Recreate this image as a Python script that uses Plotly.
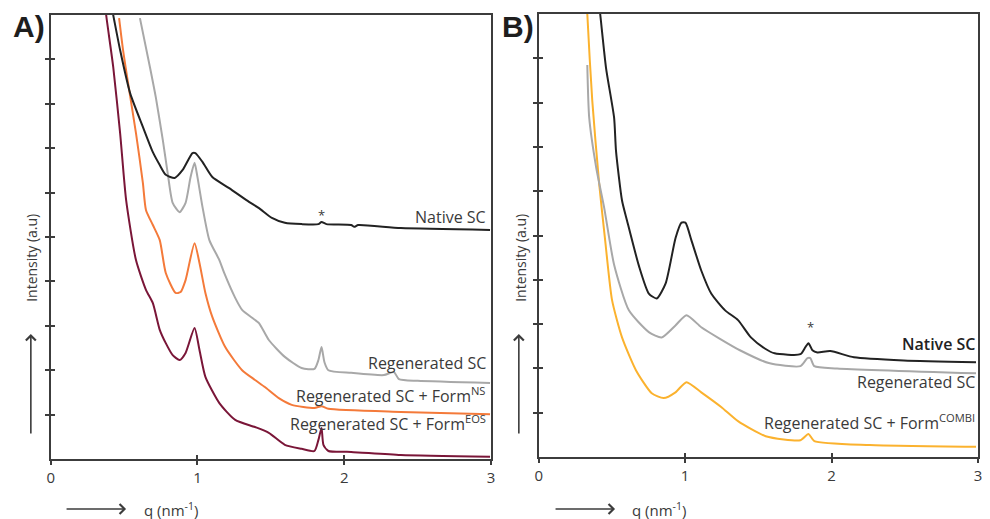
import plotly.graph_objects as go

# ---------------- Panel A data (q in nm^-1, intensity in a.u.) ----------------
q_native_a = [0.412, 0.426, 0.473, 0.541, 0.628, 0.696, 0.743, 0.784, 0.845, 0.899, 0.966, 0.986,
              1.034, 1.101, 1.216, 1.351, 1.419, 1.507, 1.595, 1.709, 1.824, 1.845, 1.878, 2.047,
              2.068, 2.095, 2.385, 2.993]
i_native_a = [10.23, 10.0, 9.21, 8.24, 7.48, 6.91, 6.62, 6.40, 6.33, 6.51, 6.89, 6.89,
              6.69, 6.35, 6.10, 5.79, 5.65, 5.43, 5.32, 5.29, 5.29, 5.34, 5.29, 5.27,
              5.23, 5.27, 5.20, 5.16]

q_regen_a = [0.608, 0.676, 0.716, 0.764, 0.797, 0.831, 0.878, 0.919, 0.953, 0.980, 1.000, 1.034,
             1.081, 1.149, 1.182, 1.257, 1.304, 1.372, 1.419, 1.486, 1.595, 1.709, 1.797, 1.824,
             1.845, 1.865, 1.892, 2.047, 2.270, 2.338, 2.372, 2.500, 2.993]
i_regen_a = [9.93, 8.83, 8.15, 7.18, 6.44, 5.77, 5.56, 5.77, 6.35, 6.67, 6.35, 5.68,
             4.93, 4.48, 4.19, 3.63, 3.36, 3.18, 3.06, 2.68, 2.30, 2.05, 2.03, 2.23,
             2.52, 2.18, 2.00, 1.94, 1.89, 1.96, 1.80, 1.76, 1.71]

q_ns_a = [0.466, 0.493, 0.527, 0.581, 0.628, 0.649, 0.696, 0.743, 0.784, 0.851, 0.885, 0.919,
          0.980, 1.014, 1.054, 1.101, 1.189, 1.304, 1.392, 1.459, 1.554, 1.642, 1.797, 1.845,
          1.892, 2.385, 2.993]
i_ns_a = [9.93, 9.21, 8.47, 7.34, 6.22, 5.61, 5.27, 4.93, 4.19, 3.74, 3.76, 4.03,
          4.86, 4.41, 3.74, 3.20, 2.52, 2.00, 1.78, 1.62, 1.37, 1.22, 1.15, 1.19,
          1.13, 1.06, 1.01]

q_eos_a = [0.372, 0.378, 0.426, 0.473, 0.514, 0.581, 0.649, 0.696, 0.743, 0.784, 0.831, 0.878,
           0.919, 0.980, 1.014, 1.054, 1.149, 1.257, 1.392, 1.486, 1.595, 1.709, 1.797, 1.824,
           1.845, 1.858, 1.892, 2.047, 2.385, 2.993]
i_eos_a = [10.23, 10.0, 8.83, 7.34, 5.83, 4.48, 3.81, 3.51, 2.91, 2.61, 2.34, 2.23,
           2.39, 2.95, 2.45, 1.85, 1.26, 0.88, 0.72, 0.59, 0.32, 0.23, 0.18, 0.43,
           0.70, 0.32, 0.18, 0.16, 0.09, 0.05]

# ---------------- Panel B data ----------------
q_native_b = [0.413, 0.420, 0.460, 0.515, 0.528, 0.569, 0.603, 0.684, 0.752, 0.806, 0.867, 0.935,
              0.975, 1.002, 1.043, 1.110, 1.178, 1.273, 1.361, 1.449, 1.544, 1.611, 1.787, 1.821,
              1.842, 1.869, 1.903, 1.991, 2.153, 2.492, 2.986]
i_native_b = [10.18, 10.0, 8.78, 7.66, 6.91, 5.79, 5.34, 4.32, 3.69, 3.58, 3.92, 4.95,
              5.29, 5.29, 4.89, 4.21, 3.69, 3.31, 3.09, 2.70, 2.45, 2.34, 2.32, 2.48,
              2.57, 2.41, 2.36, 2.39, 2.25, 2.18, 2.14]

q_regen_b = [0.332, 0.345, 0.393, 0.447, 0.515, 0.616, 0.752, 0.840, 0.934, 1.009, 1.110, 1.232,
             1.374, 1.571, 1.787, 1.835, 1.855, 1.882, 2.038, 2.986]
i_regen_b = [8.85, 7.66, 6.53, 5.63, 4.34, 3.31, 2.82, 2.70, 2.97, 3.20, 2.93, 2.68,
             2.41, 2.12, 2.05, 2.23, 2.23, 2.05, 2.00, 1.89]

q_combi_b = [0.332, 0.332, 0.366, 0.413, 0.454, 0.501, 0.569, 0.664, 0.772, 0.853, 0.934, 1.009,
             1.110, 1.246, 1.361, 1.550, 1.787, 1.842, 1.882, 2.261, 2.986]
i_combi_b = [10.18, 10.0, 8.04, 6.17, 4.89, 3.54, 2.70, 1.96, 1.44, 1.33, 1.46, 1.69,
             1.46, 1.13, 0.81, 0.47, 0.38, 0.52, 0.36, 0.27, 0.23]

x_ticks = [0, 1, 2, 3]
x_tick_labels = ["0", "1", "2", "3"]
y_ticks = [1, 2, 3, 4, 5, 6, 7, 8, 9]

BLACK = "#222222"
GRAY = "#A8A8A8"
ORANGE = "#F47A3A"
MAROON = "#7A1638"
YELLOW = "#FBB22E"
AXC = "#3C3C3C"
TXT = "#3A3A3A"
FONT = "Open Sans"

# the page body has an 8px margin; the figure is sized/positioned to compensate
OFF = 8
W, H = 990 - OFF, 519 - OFF

def PX(px):
    return (px - OFF) / W

def PY(py):
    return 1 - (py - OFF) / H

fig = go.Figure()

def line(q, i, color, xa, ya):
    fig.add_trace(go.Scatter(x=q, y=i, mode="lines",
                             line=dict(color=color, width=2, shape="spline", smoothing=0.6),
                             xaxis=xa, yaxis=ya, showlegend=False, hoverinfo="skip"))

line(q_eos_a, i_eos_a, MAROON, "x", "y")
line(q_ns_a, i_ns_a, ORANGE, "x", "y")
line(q_regen_a, i_regen_a, GRAY, "x", "y")
line(q_native_a, i_native_a, BLACK, "x", "y")

line(q_combi_b, i_combi_b, YELLOW, "x2", "y2")
line(q_regen_b, i_regen_b, GRAY, "x2", "y2")
line(q_native_b, i_native_b, BLACK, "x2", "y2")

# dummy traces to create overlay axes (inside half of the crossing ticks)
for xa, ya in (("x3", "y3"), ("x4", "y4")):
    fig.add_trace(go.Scatter(x=[None], y=[None], xaxis=xa, yaxis=ya, showlegend=False,
                             hoverinfo="skip"))

dom_xa = [PX(47), PX(491)]
dom_ya = [PY(459), PY(15)]
dom_xb = [PX(539), PX(982)]
dom_yb = [PY(457), PY(14)]

def xax(domain, anchor):
    return dict(domain=domain, anchor=anchor, range=[0, 3], showline=True, linecolor=AXC,
                linewidth=2, mirror=True, ticks="outside", ticklen=4, tickwidth=1.5,
                tickcolor=AXC, tickvals=x_ticks, ticktext=x_tick_labels,
                tickfont=dict(family=FONT, size=15, color=TXT), showgrid=False,
                zeroline=False, fixedrange=True)

def yax(domain, anchor):
    return dict(domain=domain, anchor=anchor, range=[0, 10], showline=True, linecolor=AXC,
                linewidth=2, mirror=True, ticks="outside", ticklen=4, tickwidth=1.5,
                tickcolor=AXC, tickvals=y_ticks, showticklabels=False, showgrid=False,
                zeroline=False, fixedrange=True)

def xin(over, anchor):
    return dict(overlaying=over, anchor=anchor, range=[0, 3], showline=False, ticks="inside",
                ticklen=4, tickwidth=1.5, tickcolor=AXC, tickvals=[1, 2],
                showticklabels=False, showgrid=False, zeroline=False, fixedrange=True)

def yin(over, anchor):
    return dict(overlaying=over, anchor=anchor, range=[0, 10], showline=False, ticks="inside",
                ticklen=4, tickwidth=1.5, tickcolor=AXC, tickvals=y_ticks,
                showticklabels=False, showgrid=False, zeroline=False, fixedrange=True)

fig.update_layout(
    width=W, height=H,
    margin=dict(l=0, r=0, t=0, b=0),
    paper_bgcolor="white", plot_bgcolor="white",
    font=dict(family=FONT, color=TXT),
    xaxis=xax(dom_xa, "y"), yaxis=yax(dom_ya, "x"),
    xaxis2=xax(dom_xb, "y2"), yaxis2=yax(dom_yb, "x2"),
    xaxis3=xin("x", "y3"), yaxis3=yin("y", "x3"),
    xaxis4=xin("x2", "y4"), yaxis4=yin("y2", "x4"),
)

ann = []
def label(text, x, y, xref, yref, size=16, weight="normal", xanchor="right", color=TXT):
    ann.append(dict(text=text, x=x, y=y, xref=xref,
                    yref=yref, xanchor=xanchor, yanchor="middle", showarrow=False,
                    font=dict(family=FONT, size=size, color=color, weight=weight)))

# curve labels panel A
label("Native SC", 2.98, 5.45, "x", "y")
label("Regenerated SC", 2.98, 2.16, "x", "y")
label("Regenerated SC + Form<sup>NS</sup>", 2.98, 1.44, "x", "y")
label("Regenerated SC + Form<sup>EOS</sup>", 2.98, 0.81, "x", "y")
label("*", 1.845, 5.50, "x", "y", size=13, xanchor="center")
# curve labels panel B
label("Native SC", 2.99, 2.55, "x2", "y2", weight=600, color="#222222")
label("Regenerated SC", 2.99, 1.69, "x2", "y2")
label("Regenerated SC + Form<sup>COMBI</sup>", 2.99, 0.79, "x2", "y2")
label("*", 1.855, 2.93, "x2", "y2", size=13, xanchor="center")

# panel letters
for t, px in (("A)", 25), ("B)", 518)):
    ann.append(dict(text="<b>%s</b>" % t, x=PX(px), y=PY(26), xref="paper",
                    yref="paper", xanchor="center", yanchor="middle", showarrow=False,
                    font=dict(family="Liberation Sans", size=30, color="#1E1E1E")))

# axis titles and arrows
for px_title, px_arrow, qx_arrow0, qx_text in ((27, 27, 62, 168), (520, 519, 555, 660)):
    ann.append(dict(text="Intensity (a.u)", x=PX(px_title), y=PY(258),
                    xref="paper", yref="paper", textangle=-90, showarrow=False,
                    xanchor="center", yanchor="middle",
                    font=dict(family=FONT, size=14, color=TXT)))
    ann.append(dict(text="", x=PX(px_arrow), y=PY(334), ax=0, ay=101,
                    xref="paper", yref="paper", axref="pixel", ayref="pixel",
                    showarrow=True, arrowhead=4, arrowsize=1.2,
                    arrowwidth=1.6, arrowcolor=AXC))
    ann.append(dict(text="", x=PX(qx_arrow0 + 61), y=PY(509),
                    ax=-61, ay=0, xref="paper", yref="paper",
                    axref="pixel", ayref="pixel", showarrow=True, arrowhead=4,
                    arrowsize=1.2, arrowwidth=1.6, arrowcolor=AXC))
    ann.append(dict(text="q (nm<sup>-1</sup>)", x=PX(qx_text), y=PY(509),
                    xref="paper", yref="paper", showarrow=False, xanchor="center",
                    yanchor="middle", font=dict(family=FONT, size=15, color=TXT)))

fig.update_layout(annotations=ann)
fig.write_html("out.html")
